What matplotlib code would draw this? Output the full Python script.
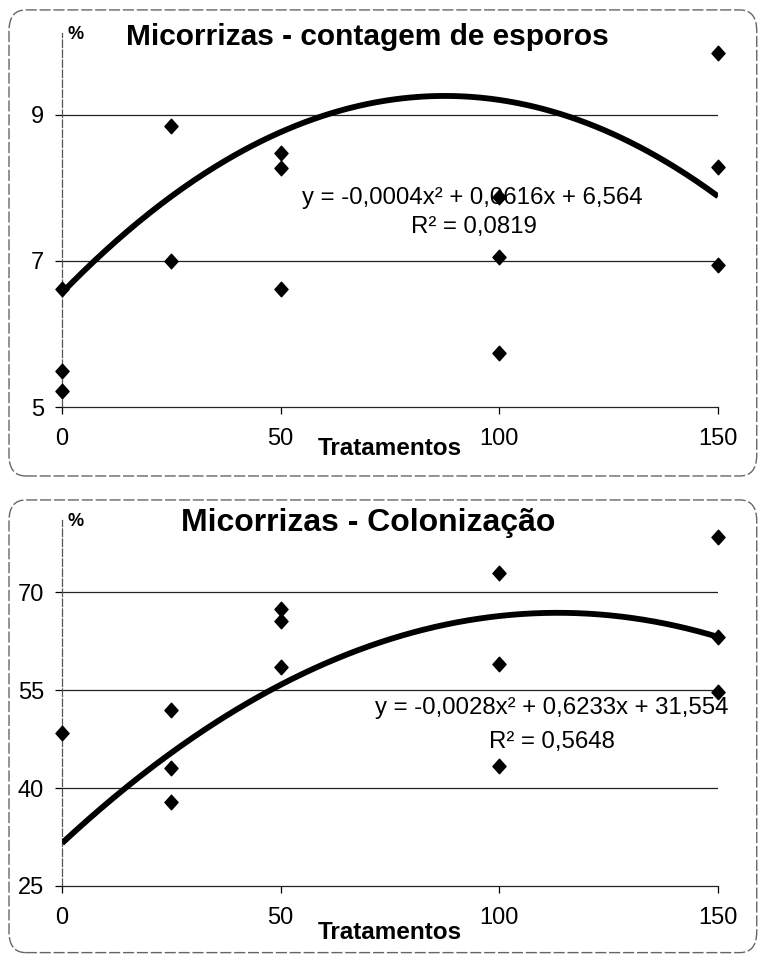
import numpy as np
import matplotlib
matplotlib.use("Agg")
import matplotlib.pyplot as plt
from matplotlib.patches import FancyBboxPatch
from matplotlib.path import Path

plt.rcParams['font.family'] = ['Liberation Sans', 'DejaVu Sans']

# spore counts (top chart)
doses_esp = [0, 0, 0, 25, 25, 50, 50, 50, 100, 100, 100, 150, 150, 150]
esporos = [6.62, 5.49, 5.22, 8.85, 7.0, 8.48, 8.27, 6.62, 7.88, 7.05, 5.74,
           9.84, 8.28, 6.95]
coef_esp = [-0.000352, 0.0616, 6.564]
eq_esp = "y = -0,0004x² + 0,0616x + 6,564"
r2_esp = "R² = 0,0819"

# colonization (bottom chart)
doses_col = [0, 25, 25, 25, 50, 50, 50, 100, 100, 100, 150, 150, 150]
colonizacao = [48.5, 52.0, 43.1, 37.8, 67.5, 65.6, 58.5, 72.9, 59.1, 43.4,
               78.5, 63.1, 54.8]
coef_col = [-0.00275, 0.6233, 31.554]
eq_col = "y = -0,0028x² + 0,6233x + 31,554"
r2_col = "R² = 0,5648"

xticks = [0, 50, 100, 150]

diamond = Path([(0, 1), (0.9, 0), (0, -1), (-0.9, 0), (0, 1)],
               [Path.MOVETO, Path.LINETO, Path.LINETO, Path.LINETO,
                Path.CLOSEPOLY])

fig = plt.figure(figsize=(7.63, 9.55), dpi=100)

# rounded frames around each chart
for y0, h in [(0.5016, 0.4880), (0.0025, 0.4740)]:
    box = FancyBboxPatch((0.0118, y0), 0.980, h,
                         boxstyle="round,pad=0,rounding_size=0.022",
                         transform=fig.transFigure, fill=False,
                         edgecolor='#666666', linewidth=1.0,
                         linestyle=(0, (8, 2)))
    fig.patches.append(box)


def draw(ax, x, y, coef, ylim, yticks, title, tsize, eq, r2, eqpos, r2pos,
         xlab_y):
    ax.set_xlim(0, 150)
    ax.set_ylim(*ylim)
    ax.set_yticks(yticks)
    ax.set_xticks(xticks)
    for v in yticks[1:]:
        ax.axhline(v, color='#222222', linewidth=0.9, zorder=1)
    for s in ['top', 'right']:
        ax.spines[s].set_visible(False)
    ax.spines['left'].set_color('#555555')
    ax.spines['left'].set_linestyle((0, (6, 2)))
    ax.spines['left'].set_linewidth(0.9)
    ax.spines['bottom'].set_color('#222222')
    ax.spines['bottom'].set_linewidth(0.9)
    ax.tick_params(axis='y', direction='out', length=5, width=0.9,
                   pad=8, labelsize=17)
    ax.tick_params(axis='x', direction='out', length=5, width=0.9,
                   pad=10, labelsize=17)

    xs = np.linspace(0, 150, 300)
    ax.plot(xs, np.polyval(coef, xs), color='black', linewidth=4.2,
            solid_capstyle='butt', zorder=3)
    ax.plot(x, y, linestyle='none', marker=diamond, markersize=10.5,
            color='black', clip_on=False, zorder=4)

    ax.text(0.466, 0.969, title, transform=ax.transAxes, ha='center',
            va='baseline', fontsize=tsize, fontweight='bold')
    ax.text(0.021, 0.997, "%", transform=ax.transAxes, ha='center',
            va='center', fontsize=13, fontweight='bold')
    ax.text(0.5, xlab_y, "Tratamentos", transform=ax.transAxes,
            ha='center', va='center', fontsize=17.5, fontweight='bold')
    ax.text(eqpos[0], eqpos[1], eq, transform=ax.transAxes, ha='center',
            va='center', fontsize=17.3, zorder=2)
    ax.text(r2pos[0], r2pos[1], r2, transform=ax.transAxes, ha='center',
            va='center', fontsize=17.3, zorder=2)


ax1 = fig.add_axes([0.0813, 0.5738, 0.8598, 0.3916])
draw(ax1, doses_esp, esporos, coef_esp, (5, 10.12), [5, 7, 9],
     "Micorrizas - contagem de esporos", 21.5, eq_esp, r2_esp,
     (0.625, 0.559), (0.628, 0.481), -0.11)

ax2 = fig.add_axes([0.0813, 0.0723, 0.8598, 0.3832])
draw(ax2, doses_col, colonizacao, coef_col, (25, 81.1), [25, 40, 55, 70],
     "Micorrizas - Colonização", 23, eq_col, r2_col,
     (0.747, 0.486), (0.747, 0.393), -0.128)

fig.savefig("out.png", dpi=100)
